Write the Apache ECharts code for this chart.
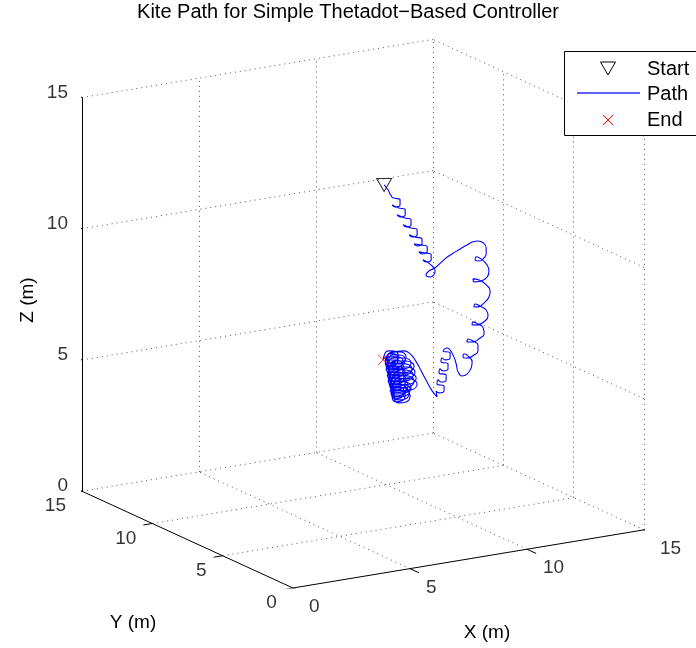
<!DOCTYPE html>
<html>
<head>
<meta charset="utf-8">
<script src="https://cdn.jsdelivr.net/npm/echarts@6/dist/echarts.min.js"></script>
<style>
    html, body { margin: 0; padding: 0; background: #fff; }
    #chart { width: 696px; height: 648px; }
</style>
</head>
<body>
<div id="chart"></div>
<script>
    // kite position (m); depth can't be read from one view,
    // so the path is taken in the plane y = 5
    const pathX = [
        6.90, 7.07, 7.20,
        7.28, 7.58, 7.58, 7.37, 7.24,
        7.50, 7.80, 7.80, 7.58, 7.45,
        7.75, 8.05, 8.05, 7.84, 7.71,
        8.01, 8.31, 8.31, 8.09, 7.97,
        8.22, 8.52, 8.52, 8.31, 8.18,
        8.44, 8.74, 8.74, 8.52, 8.39,
        8.61, 8.91, 8.91, 8.69, 8.56,
        8.91, 9.08, 8.86, 8.69, 8.82, 9.08,
        9.50, 9.80, 10.15, 10.44, 10.70, 10.91, 11.13, 11.26, 11.26,
        11.17, 10.96, 10.79, 10.83, 11.04, 11.30, 11.38,
        11.30, 11.04, 10.74, 10.70, 10.96, 11.26, 11.43, 11.38,
        11.21, 10.91, 10.74, 10.79, 11.00, 11.26, 11.34,
        11.21, 10.87, 10.66, 10.70, 10.91, 11.13, 11.17,
        11.00, 10.66, 10.44, 10.49, 10.70, 10.91, 10.91,
        10.74, 10.44, 10.27, 10.32, 10.53, 10.66, 10.62,
        10.44, 10.23, 10.06,
        9.97, 9.80, 9.59,
        9.42, 9.72, 9.72, 9.50, 9.38,
        9.33, 9.63, 9.63, 9.42, 9.29,
        9.25, 9.55, 9.55, 9.33, 9.21,
        9.16, 9.46, 9.46, 9.25, 9.12,
        9.16,
        8.95, 8.69, 8.44, 8.22, 8.01, 7.75,
        6.98, 7.24, 7.62, 7.84, 7.58, 7.20,
        7.03, 7.33, 7.80, 8.05, 7.75, 7.28,
        7.07, 7.37, 7.84, 8.09, 7.79, 7.32,
        7.11, 7.41, 7.88, 8.14, 7.84, 7.37,
        7.15, 7.45, 7.92, 8.18, 7.88, 7.41,
        7.20, 7.45, 7.84, 8.05, 7.79, 7.41,
        7.28, 7.50, 7.80, 7.97, 7.75, 7.45,
        7.24, 7.41, 7.67, 7.80, 7.62, 7.37,
        7.15, 7.37, 7.67, 7.84, 7.62, 7.33,
        7.11, 7.33, 7.62, 7.80, 7.58, 7.28,
        7.07, 7.28, 7.58, 7.75, 7.54, 7.24,
        7.03, 7.24, 7.54, 7.71, 7.50, 7.20,
        6.98, 7.20, 7.50, 7.67, 7.45, 7.15,
        6.94, 7.11, 7.37, 7.50, 7.32, 7.07,
        7.03, 7.24, 7.58, 7.80, 7.58, 7.24,
        7.07, 7.41, 7.92, 8.18, 7.84, 7.32,
        7.11, 7.45, 7.97, 8.22, 7.88, 7.37,
        7.15, 7.50, 8.01, 8.27, 7.92, 7.41,
        7.20, 7.54, 8.05, 8.31, 7.97, 7.45,
        7.24, 7.45, 7.80, 8.01, 7.80, 7.45,
        7.33, 7.54, 7.84, 8.01, 7.80, 7.50,
        7.20, 7.37, 7.62, 7.75, 7.58, 7.32,
        7.15, 7.37, 7.71, 7.92, 7.71, 7.37,
        7.07, 7.28, 7.62, 7.84, 7.62, 7.28,
        7.03, 7.24, 7.58, 7.80, 7.58, 7.24,
        6.98, 7.20, 7.54, 7.75, 7.54, 7.20,
        6.94, 7.15, 7.50, 7.71, 7.50, 7.15,
        6.94, 7.11, 7.37, 7.50, 7.32, 7.07,
        6.86
    ]
    const pathZ = [
        13.11, 12.89, 12.65,
        12.56, 12.44, 12.25, 12.20, 12.30,
        12.15, 12.03, 11.83, 11.79, 11.89,
        11.73, 11.61, 11.42, 11.37, 11.47,
        11.31, 11.19, 11.00, 10.95, 11.05,
        10.93, 10.81, 10.62, 10.58, 10.67,
        10.60, 10.48, 10.29, 10.24, 10.34,
        10.27, 10.15, 9.96, 9.91, 10.01,
        9.76, 9.51, 9.31, 9.42, 9.55, 9.63,
        9.91, 10.05, 10.19, 10.30, 10.38, 10.38, 10.28, 10.07, 9.84,
        9.70, 9.61, 9.68, 9.79, 9.68, 9.41, 9.17,
        8.95, 8.84, 8.85, 8.97, 8.89, 8.66, 8.40, 8.18,
        8.01, 7.87, 7.89, 8.00, 7.89, 7.70, 7.46,
        7.29, 7.19, 7.22, 7.33, 7.22, 7.04, 6.80,
        6.67, 6.57, 6.60, 6.71, 6.60, 6.42, 6.19,
        6.06, 5.99, 6.06, 6.17, 6.02, 5.81, 5.59,
        5.38, 5.34, 5.52,
        5.87, 6.28, 6.50,
        6.41, 6.29, 6.10, 6.06, 6.15,
        6.01, 5.89, 5.69, 5.65, 5.75,
        5.60, 5.48, 5.29, 5.24, 5.34,
        5.19, 5.07, 4.88, 4.84, 4.93,
        4.70,
        4.96, 5.41, 5.87, 6.25, 6.51, 6.66,
        6.51, 6.24, 6.22, 6.42, 6.65, 6.70,
        6.27, 6.00, 5.97, 6.16, 6.39, 6.46,
        6.04, 5.76, 5.73, 5.92, 6.16, 6.23,
        5.80, 5.53, 5.50, 5.69, 5.92, 5.99,
        5.57, 5.29, 5.26, 5.45, 5.69, 5.76,
        5.33, 5.06, 5.05, 5.24, 5.47, 5.53,
        5.09, 4.83, 4.82, 5.03, 5.25, 5.29,
        5.02, 4.77, 4.77, 4.98, 5.19, 5.23,
        5.26, 5.00, 4.99, 5.20, 5.42, 5.46,
        5.50, 5.24, 5.23, 5.43, 5.65, 5.70,
        5.73, 5.47, 5.46, 5.67, 5.89, 5.93,
        5.97, 5.71, 5.70, 5.90, 6.12, 6.17,
        6.20, 5.94, 5.93, 6.14, 6.36, 6.40,
        6.44, 6.18, 6.18, 6.39, 6.61, 6.65,
        6.38, 6.12, 6.11, 6.31, 6.53, 6.58,
        6.15, 5.87, 5.83, 6.02, 6.26, 6.34,
        5.91, 5.64, 5.60, 5.79, 6.03, 6.11,
        5.68, 5.40, 5.36, 5.55, 5.79, 5.87,
        5.44, 5.17, 5.13, 5.32, 5.56, 5.64,
        5.21, 4.95, 4.94, 5.14, 5.36, 5.41,
        4.97, 4.71, 4.70, 4.91, 5.13, 5.17,
        5.14, 4.89, 4.89, 5.10, 5.31, 5.35,
        5.38, 5.12, 5.10, 5.30, 5.52, 5.57,
        5.62, 5.36, 5.34, 5.54, 5.76, 5.81,
        5.85, 5.59, 5.58, 5.78, 6.00, 6.05,
        6.09, 5.83, 5.81, 6.01, 6.23, 6.28,
        6.32, 6.06, 6.05, 6.25, 6.47, 6.52,
        6.55, 6.30, 6.30, 6.51, 6.72, 6.76,
        6.45
    ]
    const pathY = 5

    const axisTicks = [0, 5, 10, 15]
    const legendNames = ['Start', 'Path', 'End']

    // camera: azimuth / elevation in degrees
    const viewAz = 31
    const viewEl = 16

    const font = '"Liberation Sans", Arial, Helvetica, sans-serif'
    const fontSize = 19

    const rad = Math.PI / 180
    const cosA = Math.cos(viewAz * rad), sinA = Math.sin(viewAz * rad)
    const cosE = Math.cos(viewEl * rad), sinE = Math.sin(viewEl * rad)

    function project(x, y, z) {
        return [x * cosA - y * sinA, (x * sinA + y * cosA) * sinE + z * cosE]
    }

    const lim = axisTicks[axisTicks.length - 1]
    const uMin = project(0, lim, 0)[0]
    const uMax = project(lim, 0, 0)[0]
    const vMax = project(lim, lim, lim)[1]
    const gridLeft = 82, gridWidth = 562, gridBottom = 60
    const gridHeight = gridWidth * vMax / (uMax - uMin)

    function seg(a, b) {
        return {coords: [project(a[0], a[1], a[2]), project(b[0], b[1], b[2])]}
    }

    // dotted grid on the floor and the two back walls
    const gridSegs = []
    axisTicks.slice(1).forEach(t => {
        gridSegs.push(seg([t, 0, 0], [t, lim, 0]))
        gridSegs.push(seg([0, t, 0], [lim, t, 0]))
        gridSegs.push(seg([t, lim, 0], [t, lim, lim]))
        gridSegs.push(seg([0, lim, t], [lim, lim, t]))
        gridSegs.push(seg([lim, t - 5, 0], [lim, t - 5, lim]))
        gridSegs.push(seg([lim, 0, t], [lim, lim, t]))
    })

    // solid axes with their ticks
    const axisSegs = [
        seg([0, 0, 0], [lim, 0, 0]),
        seg([0, 0, 0], [0, lim, 0]),
        seg([0, lim, 0], [0, lim, lim])
    ]
    axisTicks.forEach(t => {
        axisSegs.push(seg([t, 0, 0], [t, -0.65, 0]))
        axisSegs.push(seg([0, t, 0], [-0.38, t, 0]))
        axisSegs.push(seg([0, lim, t], [0, lim + 0.55, t]))
    })

    function tickLabels(pointOf, align, offset) {
        return {
            type: 'scatter',
            silent: true,
            symbol: 'circle',
            symbolSize: 1,
            itemStyle: {color: 'rgba(0,0,0,0)'},
            label: {
                show: true, position: 'inside', formatter: '{b}',
                align: align, verticalAlign: 'middle', offset: offset,
                color: '#000', fontSize: fontSize, fontFamily: font
            },
            data: axisTicks.map(t => ({name: String(t), value: pointOf(t)})),
            z: 4
        }
    }

    const pathData = pathX.map((x, i) => project(x, pathY, pathZ[i]))
    const last = pathX.length - 1

    const legendLeft = 564, legendTop = 51
    const legendText = (text, y) => ({
        type: 'text', x: legendLeft + 83, y: y, z: 101,
        style: {text: text, font: '20px ' + font, fill: '#000', align: 'left', verticalAlign: 'middle'}
    })

    const myChart = echarts.init(document.getElementById('chart'))
    myChart.setOption({
        animation: false,
        backgroundColor: '#fff',
        title: {
            text: 'Kite Path for Simple Thetadot\u2212Based Controller',
            left: 'center',
            top: 2,
            padding: 0,
            textStyle: {fontSize: 20, fontWeight: 'normal', color: '#000', fontFamily: font}
        },
        grid: {left: gridLeft, width: gridWidth, bottom: gridBottom, height: gridHeight},
        xAxis: {type: 'value', min: uMin, max: uMax, show: false},
        yAxis: {type: 'value', min: 0, max: vMax, show: false},
        series: [
            {
                type: 'lines',
                coordinateSystem: 'cartesian2d',
                silent: true,
                lineStyle: {color: '#555', width: 1, type: [1, 4], opacity: 1},
                data: gridSegs,
                z: 1
            },
            {
                type: 'lines',
                coordinateSystem: 'cartesian2d',
                silent: true,
                lineStyle: {color: '#000', width: 1, type: 'solid', opacity: 1},
                data: axisSegs,
                z: 2
            },
            tickLabels(t => project(t, 0, 0), 'left', [16, 19]),
            tickLabels(t => project(0, t, 0), 'right', [-16, 15]),
            tickLabels(t => project(0, lim, t), 'right', [-14, -5]),
            {
                name: legendNames[1],
                type: 'line',
                data: pathData,
                showSymbol: false,
                smooth: 0.5,
                lineStyle: {color: '#0000ff', width: 1.1},
                z: 5
            },
            {
                name: legendNames[0],
                type: 'scatter',
                data: [pathData[0]],
                symbol: 'path://M0,0L20,0L10,17Z',
                symbolSize: [15, 13],
                itemStyle: {color: 'rgba(0,0,0,0)', borderColor: '#000', borderWidth: 1},
                z: 6
            },
            {
                name: legendNames[2],
                type: 'scatter',
                data: [pathData[last]],
                symbol: 'path://M0,0L10,10M10,0L0,10',
                symbolSize: 10,
                itemStyle: {color: 'rgba(0,0,0,0)', borderColor: '#ff0000', borderWidth: 1},
                z: 6
            }
        ],
        graphic: [
            {
                type: 'text', x: 28, y: 300, rotation: Math.PI / 2,
                style: {text: 'Z (m)', font: fontSize + 'px ' + font, fill: '#000', align: 'center', verticalAlign: 'middle'}
            },
            {
                type: 'text', x: 133, y: 623,
                style: {text: 'Y (m)', font: fontSize + 'px ' + font, fill: '#000', align: 'center', verticalAlign: 'middle'}
            },
            {
                type: 'text', x: 487, y: 633,
                style: {text: 'X (m)', font: fontSize + 'px ' + font, fill: '#000', align: 'center', verticalAlign: 'middle'}
            },
            {
                type: 'rect', z: 100,
                shape: {x: legendLeft + 0.5, y: legendTop + 0.5, width: 140, height: 84},
                style: {fill: '#fff', stroke: '#000', lineWidth: 1}
            },
            {
                type: 'polygon', z: 101,
                shape: {points: [[legendLeft + 36.5, legendTop + 11], [legendLeft + 51.5, legendTop + 11], [legendLeft + 44, legendTop + 24]]},
                style: {fill: 'none', stroke: '#000', lineWidth: 1}
            },
            {
                type: 'polyline', z: 101,
                shape: {points: [[legendLeft + 13, legendTop + 42], [legendLeft + 76, legendTop + 42]]},
                style: {stroke: '#2b2bff', lineWidth: 1.3, fill: 'none'}
            },
            {
                type: 'polyline', z: 101,
                shape: {points: [[legendLeft + 39, legendTop + 64], [legendLeft + 49, legendTop + 74]]},
                style: {stroke: '#ff0000', lineWidth: 1, fill: 'none'}
            },
            {
                type: 'polyline', z: 101,
                shape: {points: [[legendLeft + 49, legendTop + 64], [legendLeft + 39, legendTop + 74]]},
                style: {stroke: '#ff0000', lineWidth: 1, fill: 'none'}
            },
            legendText(legendNames[0], legendTop + 18),
            legendText(legendNames[1], legendTop + 43),
            legendText(legendNames[2], legendTop + 69)
        ]
    })
</script>
</body>
</html>
